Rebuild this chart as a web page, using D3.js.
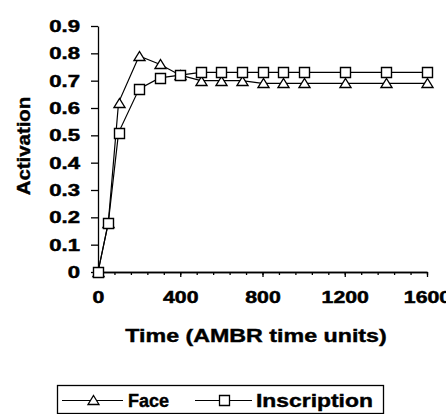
<!DOCTYPE html>
<html>

<head>
    <title>Activation</title>
    <script src="https://cdn.jsdelivr.net/npm/d3@7"></script>
    <style>
        body { margin: 0; background: #fff; }
        text { font-family: 'Liberation Sans', Arial, sans-serif; font-weight: bold; fill: #000; }
    </style>
</head>

<body>
    <svg width="446" height="414" id="mainsvg"></svg>
    <script>
        // data
        const times = [0, 50, 100, 200, 300, 400, 500, 600, 700, 800, 900, 1000, 1200, 1400, 1600];
        const face = [0, 0.18, 0.62, 0.79, 0.76, 0.72, 0.70, 0.70, 0.70, 0.69, 0.69, 0.69, 0.69, 0.69, 0.69];
        const inscription = [0, 0.18, 0.51, 0.67, 0.71, 0.72, 0.73, 0.73, 0.73, 0.73, 0.73, 0.73, 0.73, 0.73, 0.73];
        const seriesNames = ['Face', 'Inscription'];
        const xTicks = [0, 400, 800, 1200, 1600];
        const xMinorTicks = d3.range(0, 1601, 80);
        const yTicks = [0, 0.1, 0.2, 0.3, 0.4, 0.5, 0.6, 0.7, 0.8, 0.9];

        const svg = d3.select('#mainsvg');
        const xScale = d3.scaleLinear().domain([0, 1600]).range([98, 427]);
        const yScale = d3.scaleLinear().domain([0, 0.9]).range([272, 26]);

        // stretch text sideways, the original font is wide and heavy
        const widen = function (sel, k) {
            sel.each(function () {
                const w = this.getComputedTextLength();
                d3.select(this).attr('textLength', w * k).attr('lengthAdjust', 'spacingAndGlyphs');
            });
        };

        const marker = {
            Face: 'M0,-5L5.5,4L-5.5,4Z',
            Inscription: 'M-5,-5H5V5H-5Z'
        };

        // y axis
        const yAxisGroup = svg.append('g')
            .call(d3.axisLeft(yScale).tickValues(yTicks)
                .tickFormat(d => d === 0 ? '0' : d3.format('.1f')(d))
                .tickSize(7).tickSizeOuter(0).tickPadding(11))
            .attr('transform', `translate(${xScale(0)},0)`);
        yAxisGroup.selectAll('path, line').attr('stroke', '#000').attr('stroke-width', 1.3);
        yAxisGroup.selectAll('text').attr('font-size', 17).attr('font-family', null)
            .attr('stroke', '#000').attr('stroke-width', 0.5).call(widen, 1.3);

        // x axis, minor ticks first
        const xMinor = svg.append('g')
            .call(d3.axisBottom(xScale).tickValues(xMinorTicks).tickFormat('').tickSize(3).tickSizeOuter(0))
            .attr('transform', `translate(0,${yScale(0)})`);
        xMinor.selectAll('path, line').attr('stroke', '#000').attr('stroke-width', 1.3);

        const xAxisGroup = svg.append('g')
            .call(d3.axisBottom(xScale).tickValues(xTicks).tickFormat(d3.format('d'))
                .tickSize(5).tickSizeOuter(0).tickPadding(14))
            .attr('transform', `translate(0,${yScale(0)})`);
        xAxisGroup.selectAll('path, line').attr('stroke', '#000').attr('stroke-width', 1.3);
        xAxisGroup.selectAll('text').attr('font-size', 17).attr('font-family', null)
            .attr('stroke', '#000').attr('stroke-width', 0.5).call(widen, 1.25);

        // axis titles
        svg.append('text')
            .attr('x', 256).attr('y', 342)
            .attr('text-anchor', 'middle')
            .attr('font-size', 18)
            .attr('stroke', '#000').attr('stroke-width', 0.4)
            .text('Time (AMBR time units)')
            .call(widen, 1.29);

        svg.append('text')
            .attr('transform', 'rotate(-90)')
            .attr('x', -146).attr('y', 30)
            .attr('text-anchor', 'middle')
            .attr('font-size', 18)
            .attr('stroke', '#000').attr('stroke-width', 0.4)
            .text('Activation')
            .call(widen, 1.13);

        // series
        const series = [
            { name: seriesNames[0], values: face },
            { name: seriesNames[1], values: inscription }
        ];
        const line = d3.line()
            .x((d, i) => xScale(times[i]))
            .y(d => yScale(d));

        const sg = svg.selectAll('.series').data(series).join('g').attr('class', 'series');
        sg.append('path')
            .attr('d', d => line(d.values))
            .attr('fill', 'none')
            .attr('stroke', '#000')
            .attr('stroke-width', 1.2);
        sg.selectAll('.mark').data(d => d.values.map((v, i) => ({ name: d.name, t: times[i], v: v })))
            .join('path')
            .attr('class', 'mark')
            .attr('transform', d => `translate(${Math.round(xScale(d.t)) + 0.5},${Math.round(yScale(d.v)) + 0.5})`)
            .attr('d', d => marker[d.name])
            .attr('fill', '#fff')
            .attr('stroke', '#000')
            .attr('stroke-width', 1.4);

        // legend
        const legend = svg.append('g');
        legend.append('rect')
            .attr('x', 57.5).attr('y', 385.5)
            .attr('width', 326).attr('height', 28)
            .attr('fill', '#fff').attr('stroke', '#000').attr('stroke-width', 1.3);
        const legendItems = [
            { name: seriesNames[0], x0: 62, x1: 123, tx: 128, k: 1.0 },
            { name: seriesNames[1], x0: 195, x1: 252, tx: 256, k: 1.27 }
        ];
        legendItems.forEach(it => {
            legend.append('line')
                .attr('x1', it.x0).attr('x2', it.x1)
                .attr('y1', 400.5).attr('y2', 400.5)
                .attr('stroke', '#000').attr('stroke-width', 1.2);
            legend.append('path')
                .attr('transform', `translate(${Math.round((it.x0 + it.x1) / 2) + 0.5},400.5)`)
                .attr('d', marker[it.name])
                .attr('fill', '#fff').attr('stroke', '#000').attr('stroke-width', 1.3);
            legend.append('text')
                .attr('x', it.tx).attr('y', 407)
                .attr('font-size', 18)
                .attr('stroke', '#000').attr('stroke-width', 0.4)
                .text(it.name)
                .call(widen, it.k);
        });
    </script>
</body>

</html>
